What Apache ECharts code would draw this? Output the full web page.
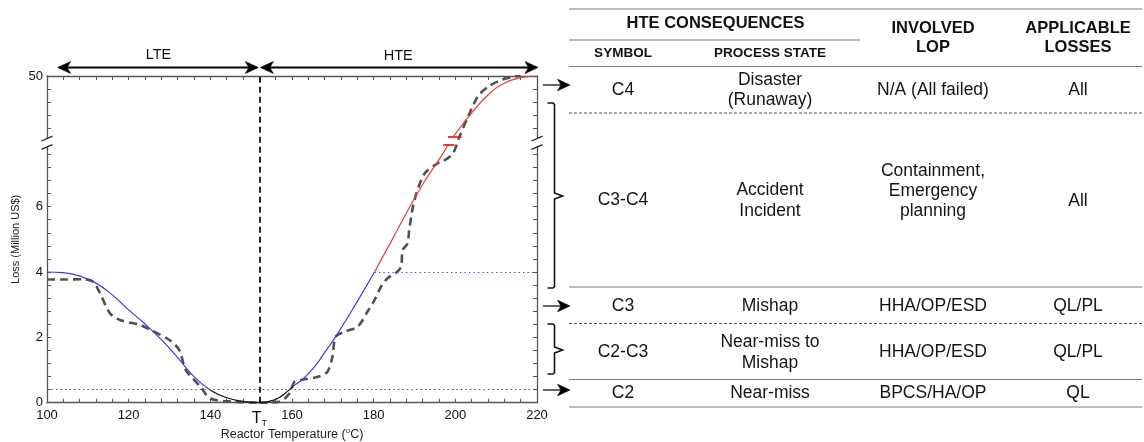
<!DOCTYPE html>
<html>
<head>
<meta charset="utf-8">
<title>Reactor temperature loss profile and HTE consequences</title>
<script src="https://cdn.jsdelivr.net/npm/echarts@6/dist/echarts.min.js"></script>
<style>
  html, body { margin: 0; padding: 0; background: #ffffff; }
  #chart { width: 1144px; height: 442px; }
</style>
</head>
<body>
<div id="chart"></div>
<script>
// ---------------------------------------------------------------------------
// Data. Loss axis runs 0..10 on a broken scale: the top tick (10) reads "50".
// ---------------------------------------------------------------------------
const targetTemp = 152; // T_T, boundary between low and high temperature excursions

// model loss curve, low-temperature side (blue)
const lteModel = [
  [100, 4.0], [104, 3.98], [108, 3.88], [112, 3.66], [116, 3.3], [120, 2.84],
  [124, 2.41], [128, 1.93], [132, 1.38], [136, 0.8], [140, 0.38]
];
// model loss curve around the target temperature (black)
const baseModel = [
  [140, 0.38], [144, 0.15], [148, 0.04], [152, 0], [156, 0.1], [158, 0.26], [160.3, 0.5]
];
// model loss curve, high-temperature side up to the C3 level (blue)
const hteModelLow = [
  [160.3, 0.5], [164, 0.88], [168, 1.53], [172, 2.28], [176, 3.1], [180.2, 4.0]
];
// model loss curve above the C3 level (red), drawn in two pieces around the break
const hteModelHigh = [
  [180.2, 4.0], [184, 4.87], [188, 5.8], [192, 6.68], [196, 7.44], [198.3, 7.91]
];
const hteModelTop = [
  [199.5, 8.14], [202, 8.56], [204, 8.87], [208, 9.42], [212, 9.78], [216, 9.95], [220, 10]
];
// red break marks on the model curve
const modelBreakMarks = [
  [[198.2, 8.14], [201.5, 8.14]],
  [[197.0, 7.91], [199.8, 7.91]]
];

// measured loss (dashed grey)
const lteMeasured = [
  [100, 3.77], [104, 3.77], [108.9, 3.78], [111.3, 3.7], [113, 3.35], [115.4, 2.74],
  [117.9, 2.53], [122.8, 2.38], [125.3, 2.23], [130, 1.92], [132.4, 1.61], [134, 1.0],
  [137.6, 0.49], [140, 0.13], [145.8, 0.03], [152, 0]
];
const hteMeasured = [
  [152, 0], [157, 0.03], [159.4, 0.29], [160.6, 0.64], [162.5, 0.7], [166.6, 0.8],
  [168.7, 0.95], [169.9, 1.41], [170.7, 2.02], [172.8, 2.17], [176.1, 2.33], [178.5, 2.79],
  [180.2, 3.14], [181.8, 3.55], [183.4, 3.81], [185.5, 3.98], [186.7, 4.16], [187.1, 4.67],
  [188.3, 4.88], [188.7, 5.29], [190, 6.2], [192.5, 7.02], [195.7, 7.33], [196.9, 7.38],
  [199.4, 7.63], [201, 8.14], [203.1, 8.75], [205.5, 9.37], [208, 9.67], [211.3, 9.88],
  [214.5, 9.98], [216, 10]
];

// consequence thresholds on the loss axis
const c2Level = 0.4;
const c3Level = 4.0;
const c3Start = 180.2;

// axis ticks and labels
const xMin = 100, xMax = 220, xTickStep = 4;
const xTickLabels = [100, 120, 140, 160, 180, 200, 220];
const yMin = 0, yMax = 10, yTickStep = 0.4;
const yTickLabels = { 0: '0', 2: '2', 4: '4', 6: '6', 10: '50' };

// table of HTE consequences
const hteSymbols = ['C4', 'C3-C4', 'C3', 'C2-C3', 'C2'];
const processStates = [['Disaster', '(Runaway)'], ['Accident', 'Incident'], ['Mishap'], ['Near-miss to', 'Mishap'], ['Near-miss']];
const involvedLop = [['N/A (All failed)'], ['Containment,', 'Emergency', 'planning'], ['HHA/OP/ESD'], ['HHA/OP/ESD'], ['BPCS/HA/OP']];
const applicableLosses = ['All', 'All', 'QL/PL', 'QL/PL', 'QL'];

// ---------------------------------------------------------------------------
const FONT = '"Liberation Sans", Arial, Helvetica, sans-serif';
const AXIS_COLOR = '#555555';
const BLUE = '#3c3ce0';
const RED = '#e83a3a';

function near(v, t) { return Math.abs(v - t) < 1e-6; }

const chart = echarts.init(document.getElementById('chart'), null, { renderer: 'canvas' });

const grid = { left: 47, top: 76, right: 607, bottom: 39.3 };

function frameAxis(base) {
  return Object.assign({
    type: 'value',
    gridIndex: 0,
    splitLine: { show: false },
    axisLine: { show: true, onZero: false, lineStyle: { color: AXIS_COLOR, width: 1.3 } },
    axisTick: { show: true, inside: true, length: 4, lineStyle: { color: AXIS_COLOR, width: 1 } }
  }, base);
}

const option = {
  animation: false,
  backgroundColor: '#ffffff',
  grid: Object.assign({ containLabel: false, outerBoundsMode: 'none' }, grid),
  xAxis: [
    frameAxis({
      position: 'bottom', min: xMin, max: xMax, interval: xTickStep,
      name: '{a|Reactor Temperature (}{sup|o}{a|C)}',
      nameLocation: 'middle', nameGap: 24, nameMoveOverlap: false,
      nameTextStyle: {
        color: '#222', fontFamily: FONT,
        rich: {
          a: { fontSize: 12.5, fontFamily: FONT, color: '#222' },
          sup: { fontSize: 8, fontFamily: FONT, color: '#222', padding: [0, 0, 7, 0] }
        }
      },
      axisLabel: {
        show: true, margin: 6, color: '#111', fontFamily: FONT, fontSize: 13,
        formatter: function (v) {
          if (near(v, targetTemp)) return '{t|T}{s|T}';
          for (const t of xTickLabels) if (near(v, t)) return String(t);
          return '';
        },
        rich: {
          t: { fontSize: 16, fontFamily: FONT, color: '#111' },
          s: { fontSize: 9, fontFamily: FONT, color: '#111', padding: [10, 0, 0, 0] }
        }
      }
    }),
    frameAxis({
      position: 'top', min: xMin, max: xMax, interval: xTickStep,
      axisLabel: { show: false }
    })
  ],
  yAxis: [
    frameAxis({
      position: 'left', min: yMin, max: yMax, interval: yTickStep,
      name: 'Loss (Million US$)', nameLocation: 'middle', nameGap: 26, nameRotate: 90,
      nameMoveOverlap: false,
      nameTextStyle: { color: '#222', fontFamily: FONT, fontSize: 11 },
      axisLabel: {
        show: true, margin: 4, color: '#111', fontFamily: FONT, fontSize: 13,
        formatter: function (v) {
          for (const k in yTickLabels) if (near(v, Number(k))) return yTickLabels[k];
          return '';
        }
      }
    }),
    frameAxis({
      position: 'right', min: yMin, max: yMax, interval: yTickStep,
      axisLabel: { show: false }
    })
  ],
  series: [
    {
      name: 'Measured loss (LTE)', type: 'line', data: lteMeasured,
      showSymbol: false, smooth: 0.3, z: 3,
      lineStyle: { color: '#505050', width: 2.6, type: [8, 5] }
    },
    {
      name: 'Measured loss (HTE)', type: 'line', data: hteMeasured,
      showSymbol: false, smooth: 0.3, z: 3,
      lineStyle: { color: '#505050', width: 2.6, type: [8, 5] }
    },
    {
      name: 'Model loss (LTE)', type: 'line', data: lteModel,
      showSymbol: false, smooth: 0.5, z: 4,
      lineStyle: { color: BLUE, width: 1.2 }
    },
    {
      name: 'Model loss (near target)', type: 'line', data: baseModel,
      showSymbol: false, smooth: 0.5, z: 4,
      lineStyle: { color: '#111111', width: 1.2 },
      markLine: {
        silent: true, symbol: ['none', 'none'], label: { show: false },
        lineStyle: { color: '#444444', width: 1.2, type: [1.3, 3.2] },
        data: [{ yAxis: c2Level }]
      }
    },
    {
      name: 'Model loss (HTE, C2-C3)', type: 'line', data: hteModelLow,
      showSymbol: false, smooth: 0.5, z: 4,
      lineStyle: { color: BLUE, width: 1.2 },
      markLine: {
        silent: true, symbol: ['none', 'none'], label: { show: false },
        lineStyle: { color: BLUE, width: 1.2, type: [1.3, 3.2] },
        data: [[{ coord: [c3Start, c3Level] }, { coord: [xMax, c3Level] }]]
      }
    },
    {
      name: 'Model loss (HTE, C3-C4)', type: 'line', data: hteModelHigh,
      showSymbol: false, smooth: 0.5, z: 4,
      lineStyle: { color: RED, width: 1.2 },
      markLine: {
        silent: true, symbol: ['none', 'none'], label: { show: false },
        lineStyle: { color: '#ee1111', width: 1.6, type: 'solid' },
        data: modelBreakMarks.map(function (m) { return [{ coord: m[0] }, { coord: m[1] }]; })
      }
    },
    {
      name: 'Model loss (HTE, C4)', type: 'line', data: hteModelTop,
      showSymbol: false, smooth: 0.5, z: 4,
      lineStyle: { color: RED, width: 1.2 },
      markLine: {
        silent: true, symbol: ['none', 'none'], label: { show: false },
        lineStyle: { color: '#111111', width: 1.8, type: [6, 4] },
        data: [{ xAxis: targetTemp }]
      }
    }
  ]
};

chart.setOption(option);

// ---------------------------------------------------------------------------
// Annotations: LTE/HTE ranges, axis breaks, pointers and the consequences table
// ---------------------------------------------------------------------------
function px(x, y) { return chart.convertToPixel({ xAxisIndex: 0, yAxisIndex: 0 }, [x, y]); }

const gx0 = px(xMin, 0)[0], gx1 = px(xMax, 0)[0];
const tx = px(targetTemp, 0)[0];

const g = [];

function line(x1, y1, x2, y2, stroke, width, dash) {
  g.push({ type: 'line', z: 100, silent: true,
    shape: { x1: x1, y1: y1, x2: x2, y2: y2 },
    style: { stroke: stroke, lineWidth: width, lineDash: dash || null } });
}
function arrowHead(tipX, tipY, dir, len, half, notch) {
  g.push({ type: 'polygon', z: 101, silent: true,
    shape: { points: [[tipX, tipY], [tipX - dir * len, tipY - half], [tipX - dir * notch, tipY], [tipX - dir * len, tipY + half]] },
    style: { fill: '#000000', stroke: '#000000', lineWidth: 0.6 } });
}
function text(str, x, y, size, bold, color) {
  g.push({ type: 'text', z: 100, silent: true, x: x, y: y,
    style: { text: str, fill: color || '#111111', font: (bold ? 'bold ' : '') + size + 'px ' + FONT,
      align: 'center', verticalAlign: 'middle' } });
}

// LTE / HTE range arrows above the plot
const arrowY = 67.5;
const lteStart = px(102.6, 0)[0];
line(lteStart + 8, arrowY, tx - 9, arrowY, '#000', 2.2);
arrowHead(lteStart, arrowY, -1, 13, 6, 9.5);
arrowHead(tx - 1, arrowY, 1, 13, 6, 9.5);
line(tx + 9, arrowY, gx1 - 8, arrowY, '#000', 2.2);
arrowHead(tx + 1, arrowY, -1, 13, 6, 9.5);
arrowHead(gx1 + 1, arrowY, 1, 13, 6, 9.5);
text('LTE', (lteStart + tx) / 2, 55, 14.5, false, '#111');
text('HTE', (tx + gx1) / 2, 56, 14.5, false, '#111');

// broken-scale marks on both loss axes
const breakY = 142.8;
[gx0, gx1].forEach(function (ax) {
  g.push({ type: 'rect', z: 99, silent: true,
    shape: { x: ax - 5, y: breakY - 4.2, width: 10, height: 8.4 },
    style: { fill: '#ffffff', stroke: null } });
  line(ax - 5.5, breakY - 1.8, ax + 5.5, breakY - 6.6, '#222', 1.3);
  line(ax - 5.5, breakY + 6.6, ax + 5.5, breakY + 1.8, '#222', 1.3);
});

// pointers from the loss axis to the table rows
[85, 306, 390].forEach(function (y) {
  line(gx1 + 6, y, gx1 + 24, y, '#111', 1.3);
  arrowHead(gx1 + 33, y, 1, 12.5, 5.8, 9);
});

// braces for the ranged consequences
function brace(top, bottom, mid, x) {
  g.push({ type: 'polyline', z: 100, silent: true,
    shape: { points: [
      [x - 7, top], [x - 1.5, top], [x, top + 1.5], [x, mid - 3], [x + 8, mid],
      [x, mid + 3], [x, bottom - 1.5], [x - 1.5, bottom], [x - 7, bottom]
    ] },
    style: { fill: null, stroke: '#111111', lineWidth: 1.6 } });
}
brace(103, 288, 196, 554.5);
brace(324, 374, 350, 554.5);

// table rules
const tL = 569, tR = 1142, tMid = 860;
const ruleColor = '#7a7a7a';
line(tL, 9, tR, 9, ruleColor, 1.2);
line(tL, 40, tMid, 40, ruleColor, 1.2);
line(tL, 66.5, tR, 66.5, ruleColor, 1.2);
line(tL, 113, tR, 113, '#555', 1, [3, 2]);
line(tL, 287, tR, 287, ruleColor, 1.2);
line(tL, 323.5, tR, 323.5, '#555', 1, [3, 2]);
line(tL, 379.5, tR, 379.5, ruleColor, 1.2);
line(tL, 407, tR, 407, ruleColor, 1.2);

// table header
const colSymbol = 623, colState = 770, colLop = 933, colLoss = 1078;
text('HTE CONSEQUENCES', (tL + tMid) / 2 + 1, 23, 16.5, true, '#111');
text('SYMBOL', colSymbol, 53, 13.5, true, '#111');
text('PROCESS STATE', colState, 53, 13.5, true, '#111');
text('INVOLVED', colLop, 28, 16.5, true, '#111');
text('LOP', colLop, 47, 16.5, true, '#111');
text('APPLICABLE', colLoss, 28, 16.5, true, '#111');
text('LOSSES', colLoss, 47, 16.5, true, '#111');

// table body
const rowCenters = [90, 200.5, 306, 352.5, 393.5];
const lineGap = [20.5, 20.5, 20.5, 21.5, 20.5];
function stacked(lines, x, cy, gap) {
  const n = lines.length;
  lines.forEach(function (s, i) { text(s, x, cy + (i - (n - 1) / 2) * gap, 17.5, false, '#151515'); });
}
hteSymbols.forEach(function (sym, i) {
  const cy = rowCenters[i];
  text(sym, colSymbol, cy, 17.5, false, '#151515');
  stacked(processStates[i], colState, cy, lineGap[i]);
  stacked(involvedLop[i], colLop, i === 1 ? cy - 9.5 : cy, 20);
  text(applicableLosses[i], colLoss, i === 1 ? cy + 1 : cy, 17.5, false, '#151515');
});

chart.setOption({ graphic: g });
</script>
</body>
</html>
